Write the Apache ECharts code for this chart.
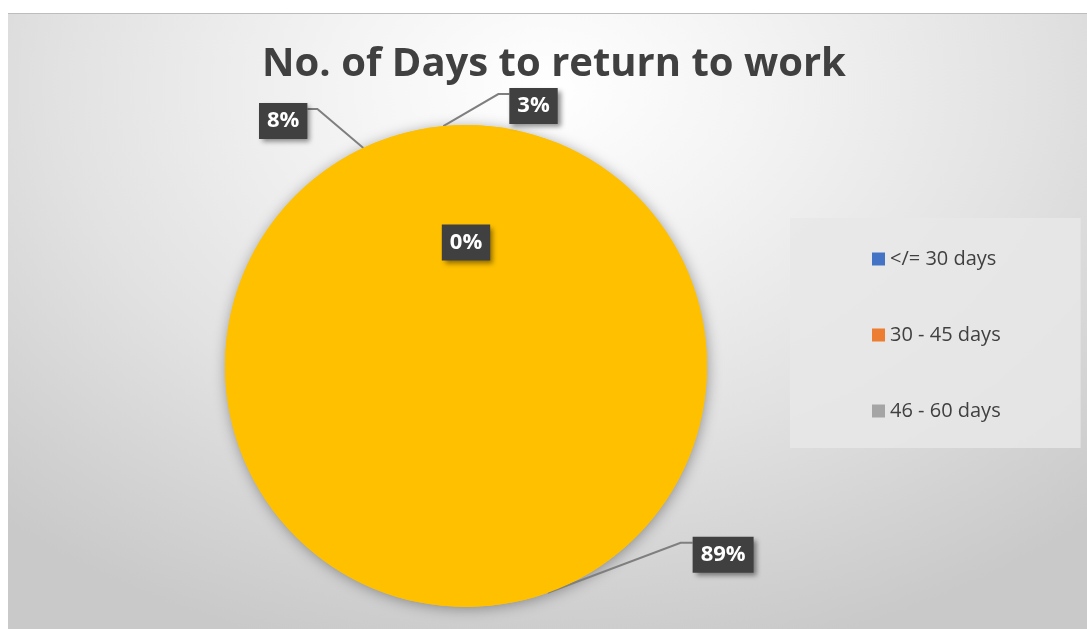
<!DOCTYPE html>
<html>
<head>
<meta charset="utf-8">
<script src="https://cdn.jsdelivr.net/npm/echarts@6/dist/echarts.min.js"></script>
<style>
html,body{margin:0;padding:0;background:#fff;width:1087px;height:629px;overflow:hidden;}
#bg{position:absolute;left:8px;top:13px;width:1079px;height:616px;border-top:1px solid #bdbdbd;
background:radial-gradient(ellipse 75% 95% at 50% 12%, #ffffff 0%, #f4f4f4 25%, #e2e2e2 60%, #d2d2d2 85%, #c9c9c9 100%);}
#chart{position:absolute;left:0;top:0;width:1087px;height:629px;}
</style>
</head>
<body>
<div id="bg"></div>
<div id="chart"></div>
<script>
const titleText = 'No. of Days to return to work';
const categories = ['</= 30 days', '30 - 45 days', '46 - 60 days', '> 60 days'];
const percentValues = [0, 89, 8, 3];
const legendColors = ['#4472C4', '#ED7D31', '#A5A5A5', '#FFC000'];
const legendShown = ['</= 30 days', '30 - 45 days', '46 - 60 days'];

// label leader offsets relative to the pie edge point (elbow dx, elbow dy, end dx, label side)
const leaderOffsets = {
  1: {ex: 133, ey: -50, hx: 12, side: 'left'},
  2: {ex: -46, ey: -39, hx: -10, side: 'right'},
  3: {ex: 55, ey: -32, hx: 11, side: 'left'}
};

const chart = echarts.init(document.getElementById('chart'));
const total = percentValues.reduce((a, b) => a + b, 0);

const labelBox = {
  show: true,
  formatter: '{d}%',
  color: '#ffffff',
  fontFamily: 'Open Sans',
  fontWeight: 'bold',
  fontSize: 22,
  lineHeight: 24,
  backgroundColor: '#404040',
  padding: [6, 8, 6, 8],
  shadowColor: 'rgba(0,0,0,0.45)',
  shadowBlur: 5,
  shadowOffsetX: 3,
  shadowOffsetY: 3
};

chart.setOption({
  animation: false,
  title: {
    text: titleText,
    left: 549,
    top: 40,
    textAlign: 'center',
    textStyle: {fontFamily: 'Open Sans', fontWeight: 'bold', fontSize: 40, color: '#404040'}
  },
  legend: {
    orient: 'vertical',
    left: 790,
    top: 218,
    padding: [30, 80, 26, 82],
    backgroundColor: 'rgba(232,232,232,0.85)',
    itemGap: 54,
    itemWidth: 13,
    itemHeight: 13,
    itemTextGap: 5,
    icon: 'rect',
    textStyle: {fontFamily: 'Open Sans', fontSize: 20, color: '#404040', lineHeight: 22},
    data: legendShown.map(n => ({name: n, itemStyle: {color: legendColors[categories.indexOf(n)]}}))
  },
  series: [
    {
      type: 'pie',
      silent: true,
      center: [466, 366],
      radius: 241,
      data: [{name: 'all', value: total}],
      label: {show: false},
      labelLine: {show: false},
      itemStyle: {color: '#FFC000', shadowColor: 'rgba(0,0,0,0.35)', shadowBlur: 14, shadowOffsetX: 1, shadowOffsetY: 2},
      z: 1
    },
    {
      type: 'pie',
      center: [466, 366],
      radius: 241,
      startAngle: 90,
      clockwise: true,
      avoidLabelOverlap: false,
      z: 2,
      itemStyle: {color: '#FFC000', borderWidth: 0},
      label: Object.assign({position: 'outside'}, labelBox),
      labelLine: {show: true, length: 20, length2: 10, smooth: false, lineStyle: {color: '#7f7f7f', width: 2}},
      data: categories.map((c, i) => {
        const d = {name: c, value: percentValues[i]};
        if (i === 0) {
          d.label = Object.assign({position: 'inside'}, labelBox);
          d.labelLine = {show: false};
        }
        return d;
      }),
      labelLayout: function (p) {
        const o = leaderOffsets[p.dataIndex];
        if (!o || !p.labelLinePoints) return {};
        const e = p.labelLinePoints[0];
        const elbow = [e[0] + o.ex, e[1] + o.ey];
        const end = [elbow[0] + o.hx, elbow[1]];
        const h = p.labelRect.height;
        return {
          x: end[0],
          y: end[1] - 6 + h / 2,
          align: o.side,
          verticalAlign: 'middle',
          labelLinePoints: [e, elbow, end]
        };
      }
    }
  ]
});
</script>
</body>
</html>
